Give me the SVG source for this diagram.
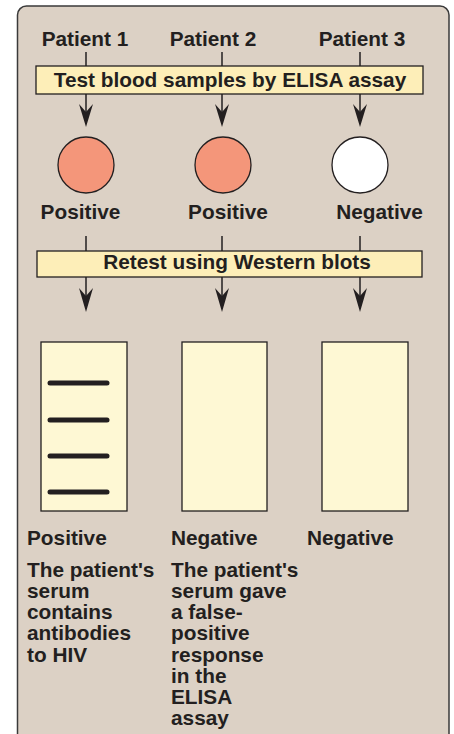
<svg xmlns="http://www.w3.org/2000/svg" width="454" height="734" viewBox="0 0 454 734">
<defs>
<style>
.t{font-family:"Liberation Sans",Arial,sans-serif;font-weight:bold;font-size:20.8px;fill:#231f20}
.ln{stroke:#231f20;stroke-width:1.5;fill:none}
.box{fill:#fdeeb8;stroke:#231f20;stroke-width:1.3}
.blot{fill:#fef8d4;stroke:#231f20;stroke-width:1.3}
.dot{stroke:#231f20;stroke-width:1.3}
.band{stroke:#231f20;stroke-width:5;stroke-linecap:round}
.ah{fill:#231f20}
</style>
</defs>
<rect x="0" y="0" width="454" height="734" fill="#ffffff"/>
<rect id="panel" x="17.5" y="6" width="431.5" height="740" rx="9" fill="#dcd1c5" stroke="#3a3a3a" stroke-width="1.5"/>

<g id="connectors">
<line class="ln" x1="86" y1="52" x2="86" y2="66"/>
<line class="ln" x1="222" y1="52" x2="222" y2="66"/>
<line class="ln" x1="360" y1="52" x2="360" y2="66"/>
<line class="ln" x1="86" y1="94" x2="86" y2="112"/>
<line class="ln" x1="222" y1="94" x2="222" y2="112"/>
<line class="ln" x1="360" y1="94" x2="360" y2="112"/>
<path class="ah" d="M86,127 L79,104 L86,112 L93,104 Z"/>
<path class="ah" d="M222,127 L215,104 L222,112 L229,104 Z"/>
<path class="ah" d="M360,127 L353,104 L360,112 L367,104 Z"/>
<line class="ln" x1="86" y1="236" x2="86" y2="251"/>
<line class="ln" x1="222" y1="236" x2="222" y2="251"/>
<line class="ln" x1="360" y1="236" x2="360" y2="251"/>
<line class="ln" x1="86" y1="277" x2="86" y2="297"/>
<line class="ln" x1="222" y1="277" x2="222" y2="297"/>
<line class="ln" x1="360" y1="277" x2="360" y2="297"/>
<path class="ah" d="M86,312 L79,288 L86,296 L93,288 Z"/>
<path class="ah" d="M222,312 L215,288 L222,296 L229,288 Z"/>
<path class="ah" d="M360,312 L353,288 L360,296 L367,288 Z"/>
</g>

<g id="patient1"><text class="t" x="85" y="46" text-anchor="middle">Patient 1</text></g>
<g id="patient2"><text class="t" x="213" y="46" text-anchor="middle">Patient 2</text></g>
<g id="patient3"><text class="t" x="362" y="46" text-anchor="middle">Patient 3</text></g>

<g id="elisa">
<rect class="box" x="36" y="66" width="387" height="28"/>
<text class="t" x="230" y="87" text-anchor="middle">Test blood samples by ELISA assay</text>
</g>

<g id="result1">
<circle class="dot" cx="86" cy="165" r="28" fill="#f4967a"/>
<text class="t" x="80.5" y="219" text-anchor="middle">Positive</text>
</g>
<g id="result2">
<circle class="dot" cx="223" cy="165" r="28" fill="#f4967a"/>
<text class="t" x="228" y="219" text-anchor="middle">Positive</text>
</g>
<g id="result3">
<circle class="dot" cx="360" cy="165" r="28" fill="#ffffff"/>
<text class="t" x="379.5" y="219" text-anchor="middle">Negative</text>
</g>

<g id="western">
<rect class="box" x="37" y="251" width="385" height="26"/>
<text class="t" x="237" y="269" text-anchor="middle">Retest using Western blots</text>
</g>

<g id="blot1">
<rect class="blot" x="41" y="342" width="86" height="169"/>
<line class="band" x1="50" y1="383" x2="107" y2="383"/>
<line class="band" x1="50" y1="420" x2="107" y2="420"/>
<line class="band" x1="50" y1="456" x2="107" y2="456"/>
<line class="band" x1="50" y1="492" x2="107" y2="492"/>
</g>
<g id="blot2"><rect class="blot" x="182" y="342" width="85" height="169"/></g>
<g id="blot3"><rect class="blot" x="322" y="342" width="86" height="169"/></g>

<g id="outcome1">
<text class="t" x="27" y="545">Positive</text>
<text class="t" x="27" y="577">The patient's</text>
<text class="t" x="27" y="598">serum</text>
<text class="t" x="27" y="619">contains</text>
<text class="t" x="27" y="640">antibodies</text>
<text class="t" x="27" y="662">to HIV</text>
</g>
<g id="outcome2">
<text class="t" x="171" y="545">Negative</text>
<text class="t" x="171" y="577">The patient's</text>
<text class="t" x="171" y="598">serum gave</text>
<text class="t" x="171" y="619">a false-</text>
<text class="t" x="171" y="640">positive</text>
<text class="t" x="171" y="662">response</text>
<text class="t" x="171" y="683">in the</text>
<text class="t" x="171" y="704">ELISA</text>
<text class="t" x="171" y="725">assay</text>
</g>
<g id="outcome3">
<text class="t" x="307" y="545">Negative</text>
</g>
</svg>
